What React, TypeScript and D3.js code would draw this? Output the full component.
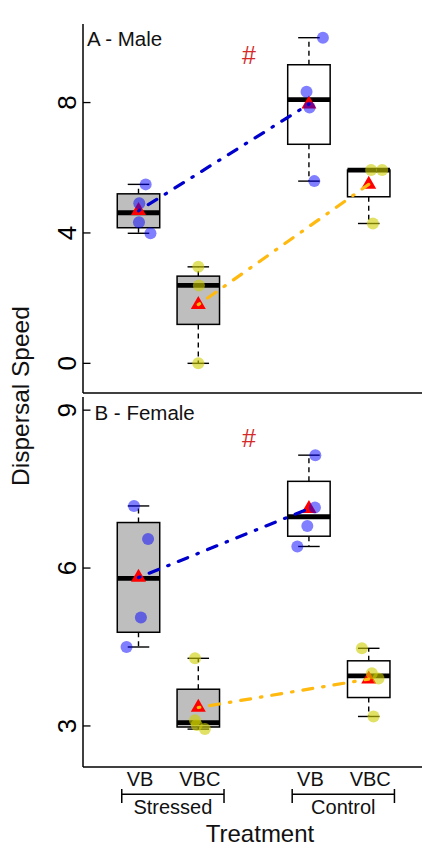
import React from "react";
import * as d3 from "d3";

// ---------- data ----------
const groupPositions = [1, 2, 3.85, 4.85];
const groupLabels = ["VB", "VBC", "VB", "VBC"];
const groupFills = ["#bebebe", "#bebebe", "#ffffff", "#ffffff"];
const treatmentLabels = ["Stressed", "Control"];
const treatmentCenters = [1.575, 4.425];

// Panel A - Male
const maleVBStressed = [5.49, 4.91, 4.33, 3.99];
const maleVBCStressed = [2.96, 2.39, 0.0];
const maleVBControl = [9.99, 8.33, 7.85, 5.59];
const maleVBCControl = [5.93, 5.93, 4.29];
const maleJitter = [
  [0.12, 0.013, 0.008, 0.2],
  [0.0, 0.01, 0.0],
  [0.234, -0.04, 0.01, 0.09],
  [0.04, 0.225, 0.07],
];
const maleMeans = [4.68, 1.8, 7.95, 5.49];
const maleTicks = [0, 4, 8];

// Panel B - Female
const femaleVBStressed = [7.18, 6.55, 5.06, 4.5];
const femaleVBCStressed = [4.285, 3.11, 3.02, 2.94];
const femaleVBControl = [8.145, 7.15, 6.8, 6.41];
const femaleVBCControl = [4.475, 4.0, 3.9, 3.18];
const femaleJitter = [
  [-0.075, 0.16, 0.04, -0.2],
  [-0.055, -0.055, -0.027, 0.11],
  [0.107, 0.1, -0.027, -0.194],
  [-0.115, 0.052, 0.164, 0.08],
];
const femaleMeans = [5.82, 3.35, 7.13, 3.89];
const femaleTicks = [3, 6, 9];

const pointColors = ["rgba(0,0,255,0.5)", "rgba(205,205,0,0.6)", "rgba(0,0,255,0.5)", "rgba(205,205,0,0.6)"];
const lineColors = ["#0000cd", "#ffb90f"];

// ---------- layout ----------
const W = 422;
const H = 848;
const FONT = "'Liberation Sans', Arial, Helvetica, sans-serif";
const axisX = 83;
const rightX = 422;

const x = d3.scaleLinear().domain([1, 2]).range([138.5, 198.3]);
const unit = x(2) - x(1);
const boxHalf = 0.355 * unit;
const stapleHalf = 0.18 * unit;

function fivenum(values: number[]) {
  const s = [...values].sort((a, b) => a - b);
  const n = s.length;
  const n4 = Math.floor((n + 3) / 2) / 2;
  const d = [1, n4, (n + 1) / 2, n + 1 - n4, n];
  return d.map((p) => 0.5 * (s[Math.floor(p) - 1] + s[Math.ceil(p) - 1]));
}

function boxStats(values: number[]) {
  const [mn, q1, med, q3, mx] = fivenum(values);
  const iqr = q3 - q1;
  const lo = d3.min(values.filter((v) => v >= q1 - 1.5 * iqr)) ?? mn;
  const hi = d3.max(values.filter((v) => v <= q3 + 1.5 * iqr)) ?? mx;
  return { lo, q1, med, q3, hi };
}

function triPath(cx: number, cy: number, xc: number) {
  const r = (xc / 1.3468) * 1.5551;
  return `M${cx},${cy - r}L${cx + xc},${cy + r / 2}L${cx - xc},${cy + r / 2}Z`;
}

type PanelProps = {
  groups: number[][];
  jitter: number[][];
  means: number[];
  ticks: number[];
  domain: [number, number];
  top: number;
  bottom: number;
  label: string;
  labelX: number;
  labelY: number;
  hashY: number;
};

function Panel(p: PanelProps) {
  const y = d3.scaleLinear().domain(p.domain).range([p.bottom, p.top]);
  const stats = p.groups.map(boxStats);
  const meanLine = d3
    .line<[number, number]>()
    .x((d) => x(d[0]))
    .y((d) => y(d[1]));
  return (
    <g>
      {/* axes */}
      <line x1={axisX} x2={axisX} y1={p.top} y2={p.bottom} stroke="#000" strokeWidth={1.5} />
      <line x1={axisX} x2={rightX} y1={p.bottom} y2={p.bottom} stroke="#000" strokeWidth={1.5} />
      {p.ticks.map((t) => (
        <g key={t}>
          <line x1={axisX} x2={axisX + 7.5} y1={y(t)} y2={y(t)} stroke="#000" strokeWidth={1.3} />
          <text
            transform={`translate(75.5,${y(t)}) rotate(-90)`}
            textAnchor="middle"
            fontSize={26}
            fontFamily={FONT}
            fill="#000"
          >
            {t}
          </text>
        </g>
      ))}
      <text x={p.labelX} y={p.labelY} fontSize={20.5} fontFamily={FONT} fill="#111">
        {p.label}
      </text>
      <text x={249} y={p.hashY} textAnchor="middle" fontSize={25} fontFamily={FONT} fill="#d42a2a">
        #
      </text>
      {/* boxes */}
      {stats.map((s, i) => {
        const cx = x(groupPositions[i]);
        return (
          <g key={"b" + i}>
            <line x1={cx} x2={cx} y1={y(s.q3)} y2={y(s.hi)} stroke="#000" strokeWidth={1.4} strokeDasharray="5 4" />
            <line x1={cx} x2={cx} y1={y(s.q1)} y2={y(s.lo)} stroke="#000" strokeWidth={1.4} strokeDasharray="5 4" />
            <line x1={cx - stapleHalf} x2={cx + stapleHalf} y1={y(s.hi)} y2={y(s.hi)} stroke="#000" strokeWidth={1.4} />
            <line x1={cx - stapleHalf} x2={cx + stapleHalf} y1={y(s.lo)} y2={y(s.lo)} stroke="#000" strokeWidth={1.4} />
            <rect
              x={cx - boxHalf}
              y={y(s.q3)}
              width={boxHalf * 2}
              height={Math.max(0, y(s.q1) - y(s.q3))}
              fill={groupFills[i]}
              stroke="#000"
              strokeWidth={1.5}
            />
            <line x1={cx - boxHalf} x2={cx + boxHalf} y1={y(s.med)} y2={y(s.med)} stroke="#000" strokeWidth={4.8} />
          </g>
        );
      })}
      {/* mean triangles */}
      {p.means.map((m, i) => (
        <path key={"m" + i} d={triPath(x(groupPositions[i]), y(m), 7.5)} fill="#ff0000" />
      ))}
      {/* points */}
      {p.groups.map((g, i) =>
        g.map((v, j) => (
          <circle
            key={`p${i}-${j}`}
            cx={x(groupPositions[i] + p.jitter[i][j])}
            cy={y(v)}
            r={6}
            fill={pointColors[i]}
          />
        ))
      )}
      {/* mean lines */}
      {[0, 1].map((k) => (
        <path
          key={"l" + k}
          d={
            meanLine([
              [groupPositions[k], p.means[k]],
              [groupPositions[k + 2], p.means[k + 2]],
            ]) || ""
          }
          fill="none"
          stroke={lineColors[k]}
          strokeWidth={3.2}
          strokeLinecap="round"
          strokeDasharray="1.5 10 10 10"
        />
      ))}
    </g>
  );
}

export default function App() {
  const maleGroups = [maleVBStressed, maleVBCStressed, maleVBControl, maleVBCControl];
  const femaleGroups = [femaleVBStressed, femaleVBCStressed, femaleVBControl, femaleVBCControl];
  return (
    <svg
      width={W}
      height={H}
      viewBox={`0 0 ${W} ${H}`}
      style={{ position: "absolute", left: 0, top: 0, background: "#fff" }}
    >
      <rect x={0} y={0} width={W} height={H} fill="#fff" />
      <Panel
        groups={maleGroups}
        jitter={maleJitter}
        means={maleMeans}
        ticks={maleTicks}
        domain={[-0.91, 10.41]}
        top={24}
        bottom={393}
        label="A - Male"
        labelX={87}
        labelY={45.5}
        hashY={63.5}
      />
      <Panel
        groups={femaleGroups}
        jitter={femaleJitter}
        means={femaleMeans}
        ticks={femaleTicks}
        domain={[2.22, 9.25]}
        top={397}
        bottom={767}
        label="B - Female"
        labelX={94.5}
        labelY={419.5}
        hashY={446.5}
      />
      {/* group labels */}
      {groupLabels.map((g, i) => (
        <text
          key={"g" + i}
          x={x(groupPositions[i]) + 1.5}
          y={785.5}
          textAnchor="middle"
          fontSize={20}
          fontFamily={FONT}
          fill="#111"
        >
          {g}
        </text>
      ))}
      {/* treatment brackets */}
      {treatmentLabels.map((t, i) => {
        const c = treatmentCenters[i];
        const x0 = x(c - 0.855);
        const x1 = x(c + 0.855);
        return (
          <g key={"t" + i}>
            <line x1={x0} x2={x1} y1={794.3} y2={794.3} stroke="#000" strokeWidth={1.5} />
            <line x1={x0} x2={x0} y1={789} y2={803} stroke="#000" strokeWidth={1.5} />
            <line x1={x1} x2={x1} y1={789} y2={803} stroke="#000" strokeWidth={1.5} />
            <text x={x(c)} y={814} textAnchor="middle" fontSize={20} fontFamily={FONT} fill="#111">
              {t}
            </text>
          </g>
        );
      })}
      <text x={260} y={842} textAnchor="middle" fontSize={24} fontFamily={FONT} fill="#111">
        Treatment
      </text>
      <text
        transform="translate(29,396) rotate(-90)"
        textAnchor="middle"
        fontSize={24.5}
        fontFamily={FONT}
        fill="#111"
      >
        Dispersal Speed
      </text>
    </svg>
  );
}
